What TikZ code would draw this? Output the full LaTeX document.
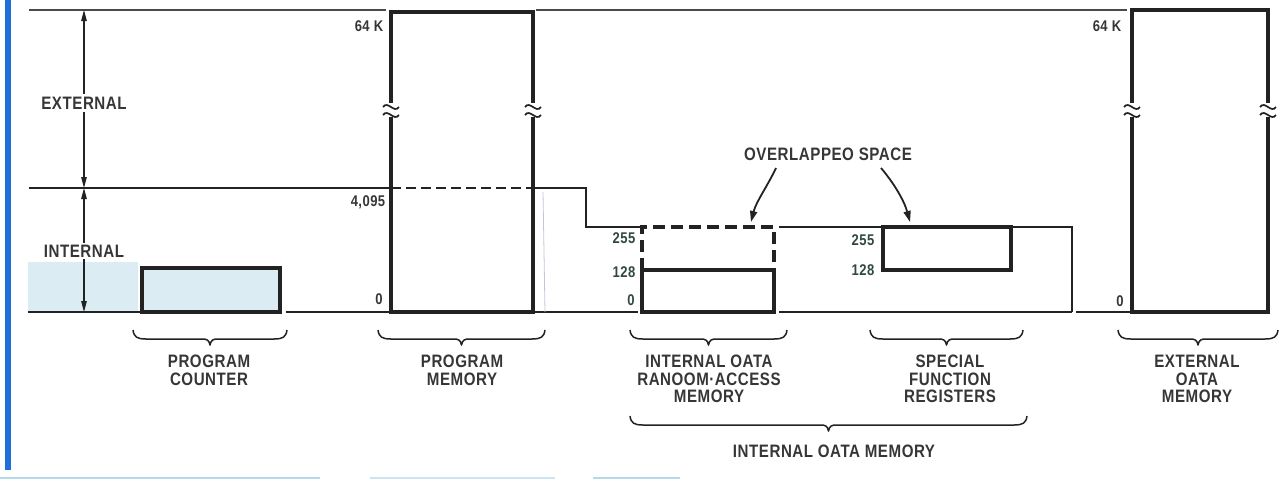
\documentclass[tikz,border=0pt]{standalone}
\usepackage{fontspec}
\setmainfont{Liberation Sans}[FakeStretch=0.84,LetterSpace=3]
\usetikzlibrary{arrows.meta}
\definecolor{txt}{HTML}{363636}
\definecolor{num}{HTML}{2F4A3C}
\definecolor{ln}{HTML}{222222}
\definecolor{topln}{HTML}{4A4A4A}
\definecolor{pcblue}{HTML}{DCECF3}
\definecolor{bluebar}{HTML}{1E6FD8}
\definecolor{faint}{HTML}{C8C2DC}
\definecolor{scanblue}{HTML}{B4D8EC}
\tikzset{
  thinline/.style={draw=ln, line width=1.9pt},
  topline/.style={draw=topln, line width=1.4pt},
  thickbox/.style={draw=ln, line width=3.6pt, inner sep=0pt, outer sep=0pt},
  dashbox/.style={draw=ln, line width=3.6pt, dash pattern=on 12pt off 6pt},
  bracestyle/.style={draw=ln, line width=1.5pt, line join=round},
  lbl/.style={font=\fontsize{18}{17.5}\selectfont\bfseries, text=txt, align=center, inner sep=1pt},
  nm/.style={font=\fontsize{15.5}{16}\selectfont\bfseries, text=num, inner sep=1pt},
  dimarrow/.style={draw=ln, line width=1.2pt, {Triangle[length=11pt,width=5.5pt]}-{Triangle[length=11pt,width=5.5pt]}},
  ptr/.style={draw=ln, line width=1.8pt, -{Triangle[length=11pt,width=7pt]}},
}
\newcommand\mybrace[3]{%
  \pgfmathsetmacro\bmid{(#1+#2)/2}%
  \draw[bracestyle] (#1,#3) .. controls (#1+1,#3+7) and (#1+4,#3+9) .. (#1+13,#3+9)
    -- (\bmid-8,#3+9) .. controls (\bmid-3,#3+9) and (\bmid-1,#3+10) .. (\bmid,#3+15)
    .. controls (\bmid+1,#3+10) and (\bmid+3,#3+9) .. (\bmid+8,#3+9)
    -- (#2-13,#3+9) .. controls (#2-4,#3+9) and (#2-1,#3+7) .. (#2,#3);}
\newcommand\breakmark[2]{%
  \fill[white] (#1-7,#2-7) rectangle (#1+7,#2+7);
  \draw[draw=ln, line width=1.7pt] (#1-8,#2-3) .. controls (#1-3,#2-10) and (#1+3,#2+4) .. (#1+8,#2-3);
  \draw[draw=ln, line width=1.7pt] (#1-8,#2+5) .. controls (#1-3,#2-2) and (#1+3,#2+12) .. (#1+8,#2+5);}
\begin{document}
\begin{tikzpicture}[x=1pt,y=-1pt]
\useasboundingbox (0,0) rectangle (1287,480);
% scan edge
\fill[bluebar] (5,0) rectangle (11,470);
\draw[scanblue, line width=2pt] (0,478) -- (320,478);
\draw[scanblue!70, line width=2pt] (370,478) -- (555,478);
\draw[scanblue, line width=2pt] (593,478) -- (680,478);

% top line
\draw[topline] (29,10) -- (386,10);
\draw[topline] (536,10) -- (1127,10);

% shaded internal area and program counter
\fill[pcblue] (28,262) rectangle (138,312);
\node[thickbox, fill=pcblue, minimum width=138pt, minimum height=44pt, anchor=north west] (pc) at (142,268) {};

% program memory
\node[thickbox, minimum width=142pt, minimum height=300pt, anchor=north west] (pm) at (391,12) {};
\draw[draw=ln, line width=1.8pt, dash pattern=on 10pt off 5pt] (391,188) -- (533,188);
\breakmark{391}{110}
\breakmark{533}{110}

% external data memory
\node[thickbox, minimum width=136pt, minimum height=302pt, anchor=north west] (edm) at (1132,10) {};
\breakmark{1132}{110}
\breakmark{1268}{110}

% internal data RAM
\node[thickbox, minimum width=132pt, minimum height=42pt, anchor=north west] (ram) at (642,270) {};
\draw[dashbox] (642,270) -- (642,227) -- (774,227) -- (774,270);
\coordinate (ramtop) at (751,222);

% special function registers
\node[thickbox, minimum width=128pt, minimum height=43pt, anchor=north west] (sfr) at (883,227) {};
\coordinate (sfrtop) at (910,222);

% boundary lines
\draw[thinline] (29,188) -- (391,188);
\draw[thinline] (533,188) -- (586,188) -- (586,227) -- (642,227);
\draw[thinline] (779,227) -- (883,227);
\draw[thinline] (1011,227) -- (1072,227) -- (1072,312);
\draw[thinline] (28,312) -- (142,312);
\draw[thinline] (286,312) -- (391,312);
\draw[thinline] (533,312) -- (638,312);
\draw[thinline] (779,312) -- (1072,312);
\draw[thinline] (1076,312) -- (1132,312);
\draw[faint, line width=0.8pt] (543,192) -- (545,312);

% dimension arrows
\coordinate (dtop) at (84,10);
\coordinate (dmid) at (84,188);
\coordinate (dbot) at (84,312);
\draw[dimarrow] (dtop) -- (dmid);
\draw[dimarrow] (dmid) -- (dbot);
\node[lbl, fill=white, inner sep=3pt] (ext) at (84,103) {EXTERNAL};
\node[lbl, fill=white, inner sep=2pt] (int) at (84,251) {INTERNAL};

% address labels
\node[nm, text=txt] (k64a) at (369,26) {64 K};
\node[nm, text=txt] (a4095) at (368,202) {4,095};
\node[nm, text=txt] (z1) at (379,299) {0};
\node[nm, text=txt] (k64b) at (1107,26) {64 K};
\node[nm, text=txt] (z3) at (1120,301) {0};
\node[nm] (r255) at (624,238) {255};
\node[nm] (r128) at (624,272) {128};
\node[nm] (z2) at (631,300) {0};
\node[nm] (s255) at (863,240) {255};
\node[nm] (s128) at (863,270) {128};

% overlapped space
\node[lbl] (ov) at (828,154) {OVERLAPPEO SPACE};
\draw[ptr] (776,168) .. controls (768,185) and (756,202) .. (ramtop);
\draw[ptr] (881,168) .. controls (893,182) and (904,200) .. (sfrtop);

% braces
\mybrace{133}{287}{330}
\mybrace{378}{545}{330}
\mybrace{630}{787}{330}
\mybrace{870}{1023}{330}
\mybrace{1118}{1278}{330}
\mybrace{630}{1027}{416}

% bottom labels
\node[lbl, anchor=north] (lpc) at (209,354) {PROGRAM\\COUNTER};
\node[lbl, anchor=north] (lpm) at (462,354) {PROGRAM\\MEMORY};
\node[lbl, anchor=north] (lram) at (709,354) {INTERNAL OATA\\RANOOM·ACCESS\\MEMORY};
\node[lbl, anchor=north] (lsfr) at (950,354) {SPECIAL\\FUNCTION\\REGISTERS};
\node[lbl, anchor=north] (ledm) at (1197,354) {EXTERNAL\\OATA\\MEMORY};
\node[lbl, anchor=north] (lidm) at (834,444) {INTERNAL OATA MEMORY};
\end{tikzpicture}
\end{document}
